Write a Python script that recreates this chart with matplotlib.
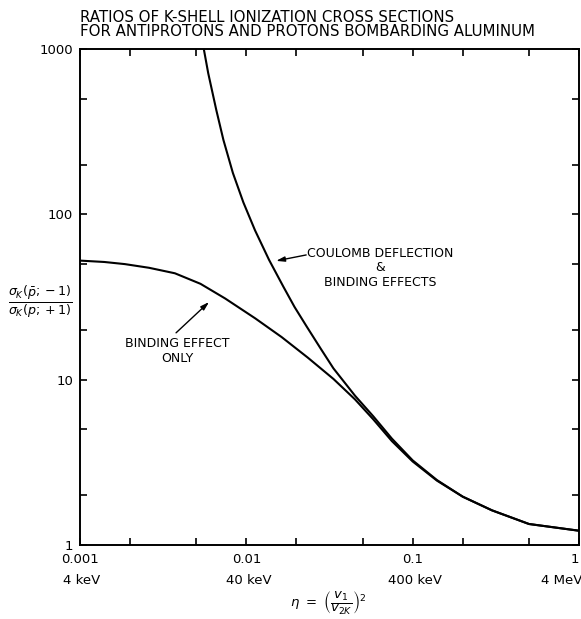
import numpy as np
import matplotlib
matplotlib.use('Agg')
import matplotlib.pyplot as plt
from matplotlib.ticker import FixedLocator, NullFormatter

##########################################
# valores (log - log) #
##########################################
# curva con deflexion coulombiana + ligadura
eta_coul = [0.00555, 0.0059, 0.0066, 0.00728, 0.0083, 0.0096, 0.01128, 0.0137,
            0.0167, 0.0195, 0.0231, 0.028, 0.0334, 0.045, 0.058, 0.075, 0.1,
            0.14, 0.2, 0.3, 0.5, 1.0]
ratio_coul = [1000, 714, 427, 282, 178, 118, 80, 53,
              36.5, 27.5, 20.9, 15.4, 11.7, 8.0, 6.0, 4.4, 3.25,
              2.47, 1.96, 1.62, 1.34, 1.22]

# curva solo efecto de ligadura
eta_bind = [0.001, 0.0014, 0.00186, 0.0026, 0.00372, 0.0053, 0.00745, 0.0113,
            0.0163, 0.0234, 0.0334, 0.045, 0.058, 0.075, 0.1, 0.14, 0.2,
            0.3, 0.5, 1.0]
ratio_bind = [52.5, 51.5, 50, 47.5, 44, 38, 31, 23.5,
              18.1, 13.6, 10.1, 7.6, 5.75, 4.25, 3.2, 2.45, 1.96,
              1.62, 1.34, 1.22]

x_major = [0.001, 0.01, 0.1, 1]
x_labels = ['0.001', '0.01', '0.1', '1']
e_labels = ['4 keV', '40 keV', '400 keV', '4 MeV']
y_major = [1, 10, 100, 1000]
y_labels = ['1', '10', '100', '1000']
minor_mult = [2, 5]

x_minor = [m * d for d in x_major[:-1] for m in minor_mult]
y_minor = [m * d for d in y_major[:-1] for m in minor_mult]

plt.rcParams['font.family'] = ['DejaVu Sans']
plt.rcParams['mathtext.fontset'] = 'dejavusans'

fig = plt.figure(figsize=(5.81, 6.19), dpi=100)
ax = fig.add_axes([80/581, 1 - 545/619, 499/581, 496/619])

ax.loglog(eta_coul, ratio_coul, 'k-', linewidth=1.5)
ax.loglog(eta_bind, ratio_bind, 'k-', linewidth=1.5)

ax.set_xlim(0.001, 1)
ax.set_ylim(1, 1000)

for s in ax.spines.values():
    s.set_linewidth(1.4)

ax.xaxis.set_major_locator(FixedLocator(x_major))
ax.xaxis.set_minor_locator(FixedLocator(x_minor))
ax.yaxis.set_major_locator(FixedLocator(y_major))
ax.yaxis.set_minor_locator(FixedLocator(y_minor))
ax.set_xticklabels(x_labels)
ax.set_yticklabels(y_labels)
ax.xaxis.set_minor_formatter(NullFormatter())
ax.yaxis.set_minor_formatter(NullFormatter())
ax.tick_params(which='both', direction='in', length=5, width=1.2,
               top=True, right=True, labelsize=9.5)
ax.tick_params(axis='x', pad=6)
ax.tick_params(axis='y', pad=5)
# el "1" del borde derecho queda dentro de la figura
ax.xaxis.get_major_ticks()[-1].label1.set_horizontalalignment('right')

# segunda fila de etiquetas: energia del proton
for e, lab in zip(x_major, e_labels):
    if e == x_major[-1]:
        ax.annotate(lab, xy=(e, 0), xycoords=('data', 'axes fraction'),
                    xytext=(3, -36), textcoords='offset pixels',
                    ha='right', va='center', fontsize=9.5, annotation_clip=False)
    else:
        ax.annotate(lab, xy=(e, 0), xycoords=('data', 'axes fraction'),
                    xytext=(2, -36), textcoords='offset pixels',
                    ha='center', va='center', fontsize=9.5, annotation_clip=False)

# titulo
fig.text(80/581, 1 - 17/619, 'RATIOS OF K-SHELL IONIZATION CROSS SECTIONS',
         ha='left', va='center', fontsize=10.8)
fig.text(80/581, 1 - 32/619, 'FOR ANTIPROTONS AND PROTONS BOMBARDING ALUMINUM',
         ha='left', va='center', fontsize=10.8)

# ejes
fig.text(40/581, 1 - 302/619,
         r'$\frac{\sigma_K(\bar{p};-1)}{\sigma_K(p;+1)}$',
         ha='center', va='center', fontsize=13)
fig.text(328/581, 1 - 603/619,
         r'$\eta\ =\ \left(\dfrac{v_1}{v_{2K}}\right)^2$',
         ha='center', va='center', fontsize=9.5)

# anotaciones
arrow = dict(arrowstyle='-|>,head_length=0.5,head_width=0.15', color='k',
             linewidth=1.0, shrinkA=0, shrinkB=0)
ax.annotate('', xy=(0.0151, 52.3), xytext=(0.0229, 56.8), arrowprops=arrow)
ax.text(0.0637, 47.4, 'COULOMB DEFLECTION\n&\nBINDING EFFECTS',
        ha='center', va='center', fontsize=9, linespacing=1.15)

ax.annotate('', xy=(0.00597, 29.5), xytext=(0.00378, 19.2), arrowprops=arrow)
ax.text(0.00383, 14.9, 'BINDING EFFECT\nONLY',
        ha='center', va='center', fontsize=9, linespacing=1.15)

fig.savefig('out.png', dpi=100)
